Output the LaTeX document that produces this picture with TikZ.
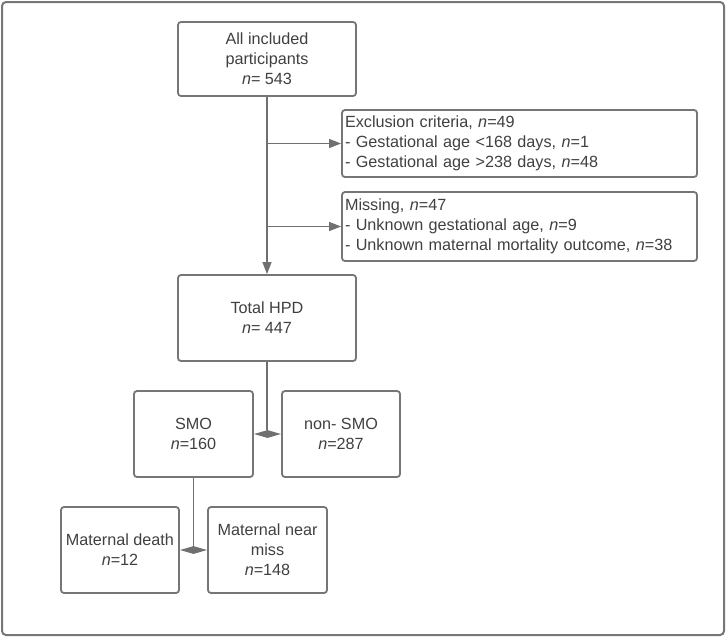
\documentclass[tikz,border=0pt]{standalone}
\usepackage{fontspec}
\setmainfont{Liberation Sans}
\usetikzlibrary{shapes.geometric, arrows.meta, positioning, calc}
\definecolor{FrameGray}{HTML}{767676}
\definecolor{LineGray}{HTML}{707070}
\definecolor{TextGray}{HTML}{404040}

\tikzset{
  box/.style={draw=FrameGray, line width=1.8pt, rounded corners=3pt, align=center,
              text=TextGray, inner sep=2pt},
  sidebox/.style={box, align=left, inner sep=3pt},
  link/.style={draw=LineGray, line width=1.3pt},
  joint/.style={diamond, fill=LineGray, draw=none, inner sep=0pt,
                minimum width=27pt, minimum height=8pt}
}

\begin{document}
\begin{tikzpicture}[x=1pt, y=-1pt, font=\fontsize{16.2}{20}\selectfont,
                    >={Triangle[length=12pt, width=9pt]}]
                % Frame
                \useasboundingbox (0,0) rectangle (727,638);
                \draw[draw=FrameGray, line width=2pt, rounded corners=4pt] (2,2) rectangle (724,635);

                % Nodes
                \node (all) [box, minimum width=178pt, minimum height=74pt] at (267,59) {All included\\participants\\\textit{n}= 543};
                \node (excl) [sidebox, text width=349pt, minimum height=67pt] at (519.5,143.5) {Exclusion criteria, \textit{n}=49\\- Gestational age <168 days, \textit{n}=1\\- Gestational age >238 days, \textit{n}=48};
                \node (miss) [sidebox, text width=349pt, minimum height=69pt] at (519.5,226.5) {Missing, \textit{n}=47\\- Unknown gestational age, \textit{n}=9\\- Unknown maternal mortality outcome, \textit{n}=38};
                \node (hpd) [box, minimum width=178pt, minimum height=86pt] at (267,318) {Total HPD\\\textit{n}= 447};
                \node (smo) [box, minimum width=119pt, minimum height=86pt] at (193.5,434) {SMO\\\textit{n}=160};
                \node (nonsmo) [box, minimum width=118pt, minimum height=86pt] at (341,434) {non- SMO\\\textit{n}=287};
                \node (death) [box, minimum width=118pt, minimum height=86pt] at (120,550) {Maternal death\\\textit{n}=12};
                \node (nearmiss) [box, minimum width=119pt, minimum height=86pt] at (267.5,550) {Maternal near\\miss\\\textit{n}=148};

                % Joints
                \node (split1) [joint] at ($(smo.east)!0.5!(nonsmo.west)$) {};
                \node (split2) [joint] at ($(death.east)!0.5!(nearmiss.west)$) {};

                % Paths
                \draw[link, ->] (all) -- (hpd);
                \draw[link, ->] (all.south |- excl.west) -- (excl.west);
                \draw[link, ->] (all.south |- miss.west) -- (miss.west);
                \draw[link] (hpd.south) -- (hpd.south |- split1.north);
                \draw[link] (smo.south) -- (smo.south |- split2.north);
            \end{tikzpicture}
\end{document}
